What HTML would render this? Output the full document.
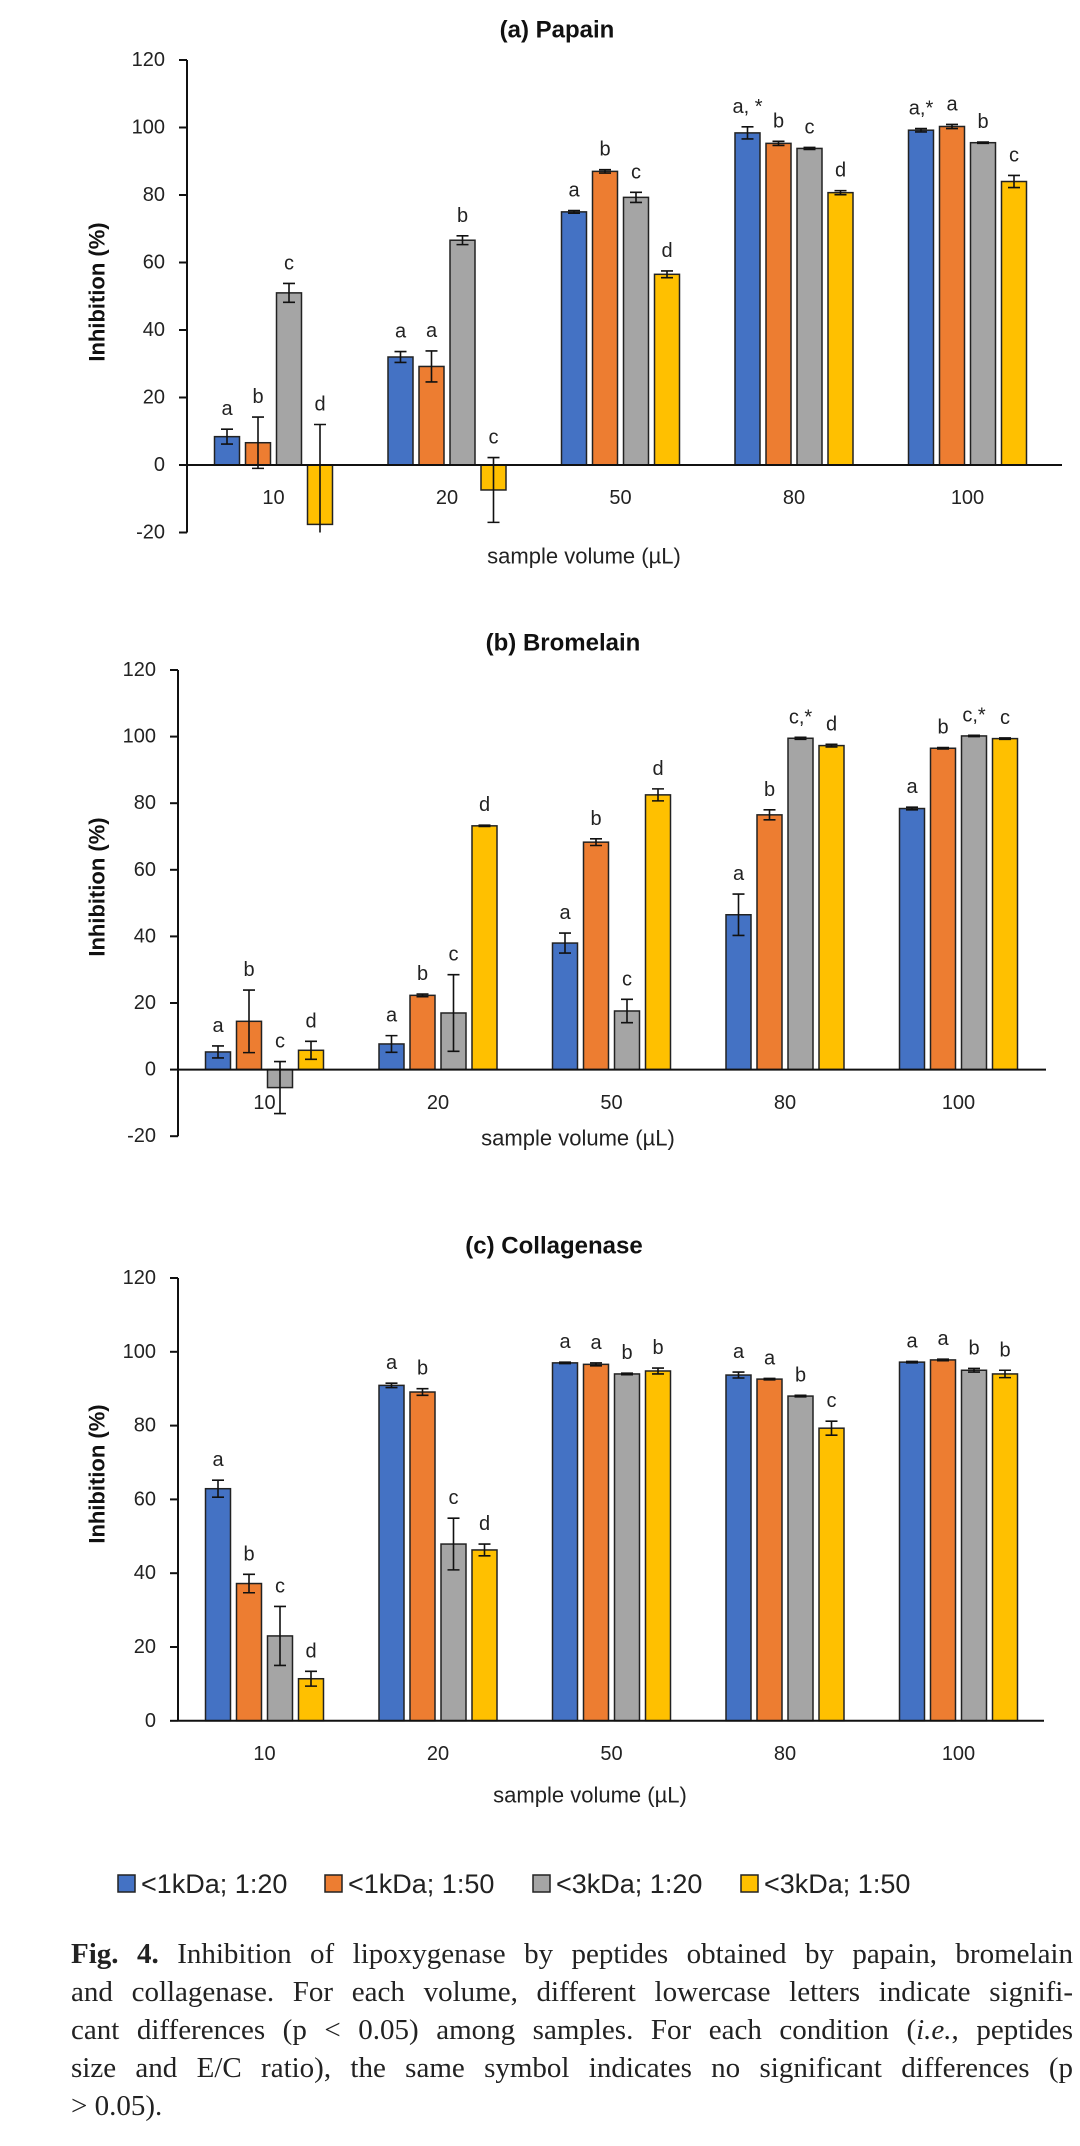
<!DOCTYPE html>
<html><head><meta charset="utf-8">
<style>
html,body{margin:0;padding:0;background:#fff;}
body{width:1080px;height:2146px;position:relative;overflow:hidden;font-family:"Liberation Sans",sans-serif;}
#cap{position:absolute;left:71px;top:1935px;width:1002px;font-family:"Liberation Serif",serif;font-size:29px;line-height:38px;color:#222;}
#cap .ln{text-align:justify;text-align-last:justify;white-space:nowrap;}
#cap .ln.last{text-align-last:left;}
</style></head><body>
<svg id="fig" width="1080" height="1910" style="position:absolute;left:0;top:0" xmlns="http://www.w3.org/2000/svg" font-family="Liberation Sans, sans-serif"></svg>
<div id="cap">
<div class="ln"><b>Fig. 4.</b> Inhibition of lipoxygenase by peptides obtained by papain, bromelain</div>
<div class="ln">and collagenase. For each volume, different lowercase letters indicate signifi-</div>
<div class="ln">cant differences (p &lt; 0.05) among samples. For each condition (<i>i.e.</i>, peptides</div>
<div class="ln">size and E/C ratio), the same symbol indicates no significant differences (p</div>
<div class="ln last">&gt; 0.05).</div>
</div>
<script>
const categories = ["10","20","50","80","100"];
const seriesNames = ["<1kDa; 1:20","<1kDa; 1:50","<3kDa; 1:20","<3kDa; 1:50"];
const colors = ["#4472c4","#ed7d31","#a5a5a5","#ffc000"];
const yTicksA = [-20,0,20,40,60,80,100,120];
const yTicksB = [-20,0,20,40,60,80,100,120];
const yTicksC = [0,20,40,60,80,100,120];
const papainVals = [[8.4,32,75,98.4,99.2],[6.6,29.2,87,95.3,100.3],[51,66.6,79.3,93.8,95.5],[-17.6,-7.4,56.5,80.7,84]];
const papainErr = [[2.2,1.6,0.4,1.8,0.5],[7.6,4.6,0.5,0.6,0.6],[2.8,1.3,1.5,0.3,0.2],[29.6,9.6,1,0.6,1.8]];
const papainLetters = [["a","a","a","a, *","a,*"],["b","a","b","b","a"],["c","b","c","c","b"],["d","c","d","d","c"]];
const bromVals = [[5.3,7.7,38,46.5,78.4],[14.5,22.3,68.3,76.5,96.5],[-5.4,17,17.6,99.5,100.2],[5.8,73.2,82.5,97.3,99.4]];
const bromErr = [[1.8,2.5,3,6.2,0.4],[9.4,0.4,1,1.5,0.2],[7.8,11.5,3.5,0.3,0.2],[2.7,0.2,1.8,0.4,0.2]];
const bromLetters = [["a","a","a","a","a"],["b","b","b","b","b"],["c","c","c","c,*","c,*"],["d","d","d","d","c"]];
const collVals = [[62.9,90.9,97,93.7,97.2],[37.2,89.1,96.6,92.6,97.8],[23,47.9,94,88,95],[11.4,46.3,94.8,79.3,94]];
const collErr = [[2.3,0.6,0.2,0.8,0.2],[2.5,0.9,0.4,0.2,0.2],[8,7,0.2,0.2,0.5],[2,1.6,0.8,1.9,1]];
const collLetters = [["a","a","a","a","a"],["b","b","a","a","a"],["c","c","b","b","b"],["d","d","b","c","b"]];

const svg = document.getElementById('fig');
const NS = "http://www.w3.org/2000/svg";
function mk(tag, attrs, parent){ const e=document.createElementNS(NS,tag); for(const k in attrs) e.setAttribute(k,attrs[k]); (parent||svg).appendChild(e); return e; }

function drawPanel(cfg){
  const g = mk('g',{});
  
  
  const yMax=120, yMin=cfg.ticks[0];
  const y = v => cfg.y120 + (yMax - v) * cfg.per20 / 20;
  const x0 = cfg.axisX;
  const groupStep = 173.5, barStep = 31, barW = 25, firstOff = 27.5;
  const gx = (ci, si) => x0 + firstOff + ci*groupStep + si*barStep;
  const t = mk('text',{x:cfg.titleX,y:cfg.titleY,'text-anchor':'middle','dominant-baseline':'central','font-size':24,'font-weight':'bold',fill:'#111'},g);
  t.textContent = cfg.title;
  
  
  const ya = mk('line',{x1:x0,y1:y(yMax),x2:x0,y2:y(yMin),stroke:'#111','stroke-width':2},g);
  
  
  cfg.ticks.forEach(v=>{
    mk('line',{x1:x0-8,y1:y(v),x2:x0,y2:y(v),stroke:'#111','stroke-width':2},g);
    const tl = mk('text',{x:x0-22,y:y(v),'text-anchor':'end','dominant-baseline':'central','font-size':20,fill:'#222'},g);
    tl.textContent = v;
    
    
  });
  const yt = mk('text',{x:97,y:cfg.yTitleY,'text-anchor':'middle','dominant-baseline':'central','font-size':22,'font-weight':'bold',fill:'#111',transform:`rotate(-90 97 ${cfg.yTitleY})`},g);
  yt.textContent = 'Inhibition (%)';
  
  
  cfg.vals.forEach((ser, si)=>{
    ser.forEach((v, ci)=>{
      const bx = gx(ci, si);
      const top = Math.min(y(v), y(0)), h = Math.abs(y(v)-y(0));
      const r = mk('rect',{x:bx,y:top,width:barW,height:h,fill:colors[si],stroke:'#222','stroke-width':1.5},g);
      
      
      const e = cfg.err[si][ci];
      const cx = bx + barW/2;
      const hiV = v + e, loV = Math.max(v - e, yMin);
      const eb = mk('path',{d:`M${cx},${y(hiV)}V${y(loV)}M${cx-6},${y(hiV)}H${cx+6}`+(v-e>=yMin?`M${cx-6},${y(loV)}H${cx+6}`:''),stroke:'#111','stroke-width':1.6,fill:'none'},g);
      
      
      const topV = Math.max(hiV, v, 0);
      const lt = mk('text',{x:cx,y:y(topV)-14,'text-anchor':'middle','font-size':20,fill:'#222'},g);
      lt.textContent = cfg.letters[si][ci];
      
      
    });
  });
  const xa = mk('line',{x1:x0,y1:y(0),x2:cfg.axisEnd,y2:y(0),stroke:'#111','stroke-width':2},g);
  
  
  categories.forEach((c, ci)=>{
    const cx = x0 + firstOff + ci*groupStep + (3*barStep+barW)/2;
    const xl = mk('text',{x:cx,y:cfg.xLabY,'text-anchor':'middle','dominant-baseline':'central','font-size':20,fill:'#222'},g);
    xl.textContent = c;
    
    
  });
  const xt = mk('text',{x:cfg.xTitleX,y:cfg.xTitleY,'text-anchor':'middle','dominant-baseline':'central','font-size':22,fill:'#222'},g);
  xt.textContent = 'sample volume (µL)';
  
  
}

drawPanel({key:'papain',title:'(a) Papain',titleX:557,titleY:30,axisX:187,axisEnd:1062,y120:60,per20:67.5,ticks:yTicksA,vals:papainVals,err:papainErr,letters:papainLetters,yTitleY:292,xLabY:498,xTitleX:584,xTitleY:556});
drawPanel({key:'bromelain',title:'(b) Bromelain',titleX:563,titleY:643,axisX:178,axisEnd:1046,y120:670,per20:66.6,ticks:yTicksB,vals:bromVals,err:bromErr,letters:bromLetters,yTitleY:887,xLabY:1103,xTitleX:578,xTitleY:1138});
drawPanel({key:'collagenase',title:'(c) Collagenase',titleX:554,titleY:1246,axisX:178,axisEnd:1044,y120:1278,per20:73.8,ticks:yTicksC,vals:collVals,err:collErr,letters:collLetters,yTitleY:1474,xLabY:1754,xTitleX:590,xTitleY:1795});

const legX = [118,325,533,741];
seriesNames.forEach((n,i)=>{
  const r = mk('rect',{x:legX[i],y:1875,width:17,height:17,fill:colors[i],stroke:'#222','stroke-width':1.5});
  
  
  const t = mk('text',{x:legX[i]+23,y:1884,'dominant-baseline':'central','font-size':27,fill:'#222'});
  t.textContent = n;
  
  
});
</script>
</body></html>
